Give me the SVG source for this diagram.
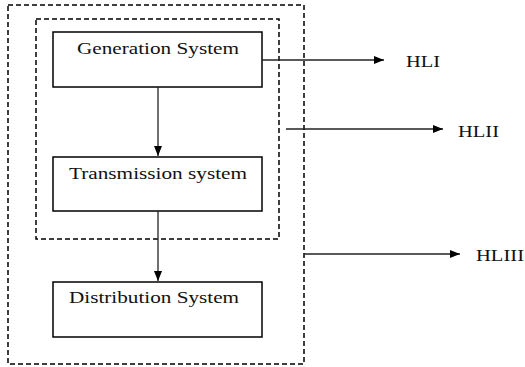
<svg xmlns="http://www.w3.org/2000/svg" width="525" height="367" viewBox="0 0 525 367">
<style>
.dash{fill:none;stroke:#000;stroke-width:1.5;stroke-dasharray:5 3}
.box{fill:#fff;stroke:#000;stroke-width:1.5}
.ln{stroke:#222;stroke-width:1.3;fill:none}
text{font-family:"Liberation Serif","Times New Roman",serif;font-size:17px;fill:#111}
</style>
<defs>
<marker id="ah" markerWidth="10" markerHeight="8" refX="10" refY="4" orient="auto" markerUnits="userSpaceOnUse">
<path d="M0,0 L10,4 L0,8 Z" fill="#000"/>
</marker>
</defs>
<g id="outer-boundary"><rect class="dash" x="8" y="5" width="296" height="359"/></g>
<g id="inner-boundary"><rect class="dash" x="36" y="19" width="243" height="220"/></g>
<g id="generation"><rect class="box" x="53" y="32" width="209" height="55"/><text x="77" y="54" textLength="162" lengthAdjust="spacingAndGlyphs">Generation System</text></g>
<g id="transmission"><rect class="box" x="53" y="157" width="209" height="54"/><text x="69" y="179" textLength="178" lengthAdjust="spacingAndGlyphs">Transmission system</text></g>
<g id="distribution"><rect class="box" x="53" y="282" width="209" height="55"/><text x="69" y="303" textLength="170" lengthAdjust="spacingAndGlyphs">Distribution System</text></g>
<g id="hl1"><text x="406" y="67" textLength="34" lengthAdjust="spacingAndGlyphs">HLI</text></g>
<g id="hl2"><text x="458" y="137" textLength="41" lengthAdjust="spacingAndGlyphs">HLII</text></g>
<g id="hl3"><text x="476" y="261" textLength="48" lengthAdjust="spacingAndGlyphs">HLIII</text></g>
<g id="connectors">
<line class="ln" x1="158" y1="87" x2="158" y2="156" marker-end="url(#ah)"/>
<line class="ln" x1="158" y1="211" x2="158" y2="281" marker-end="url(#ah)"/>
<line class="ln" x1="262" y1="60" x2="384" y2="60" marker-end="url(#ah)"/>
<line class="ln" x1="286" y1="129" x2="443" y2="129" marker-end="url(#ah)"/>
<line class="ln" x1="304" y1="254" x2="460" y2="254" marker-end="url(#ah)"/>
</g>
</svg>
